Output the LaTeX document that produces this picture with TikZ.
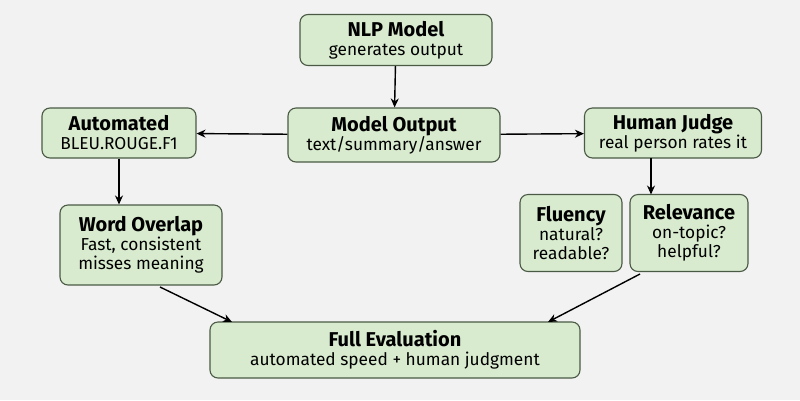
\documentclass[tikz,border=0pt]{standalone}
\usepackage{fontspec}
\setmainfont{Fira Sans}
\usetikzlibrary{arrows.meta}
\definecolor{bg}{HTML}{F2F2F2}
\definecolor{nf}{HTML}{D8EBCF}
\definecolor{nd}{HTML}{4A5A45}
\begin{document}
\begin{tikzpicture}[x=1pt,y=-1pt,
  box/.style={draw=nd,fill=nf,rounded corners=8pt,line width=1.1pt,align=center,inner sep=2pt,font=\fontsize{17.3}{19}\selectfont},
  arr/.style={-{Stealth[length=9pt,width=8pt]},line width=1.4pt,black}]
\fill[bg] (0,0) rectangle (800,400);
\useasboundingbox (0,0) rectangle (800,400);
\newcommand{\ttl}[1]{{\fontsize{20}{21.5}\selectfont\bfseries #1}}
\node[box,minimum width=192,minimum height=51] (nlp) at (396,40) {\ttl{NLP Model}\\generates output};
\node[box,minimum width=212,minimum height=54] (mo) at (394,135) {\ttl{Model Output}\\text/summary/answer};
\node[box,minimum width=154,minimum height=50] (au) at (119,133) {\ttl{Automated}\\BLEU.ROUGE.F1};
\node[box,minimum width=177,minimum height=50] (hj) at (673,133) {\ttl{Human Judge}\\real person rates it};
\node[box,minimum width=162,minimum height=80] (wo) at (141,245) {\ttl{Word Overlap}\\Fast, consistent\\misses meaning};
\node[box,minimum width=102,minimum height=77] (fl) at (571,233) {\ttl{Fluency}\\natural?\\readable?};
\node[box,minimum width=118,minimum height=77] (re) at (689,233) {\ttl{Relevance}\\on-topic?\\helpful?};
\node[box,minimum width=370,minimum height=56] (fe) at (395,350) {\ttl{Full Evaluation}\\automated speed + human judgment};
\draw[arr] (nlp) -- (mo);
\draw[arr] (mo) -- (au);
\draw[arr] (mo) -- (hj);
\draw[arr] (au) -- (au|-wo.north);
\coordinate (hjs) at (651,158);
\coordinate (ret) at (651,194.5);
\coordinate (wos) at (160,287);
\coordinate (fel) at (232,322);
\coordinate (res) at (640,274);
\coordinate (fer) at (548,322);
\draw[arr] (hjs) -- (ret);
\draw[arr] (wos) -- (fel);
\draw[arr] (res) -- (fer);
\end{tikzpicture}
\end{document}
